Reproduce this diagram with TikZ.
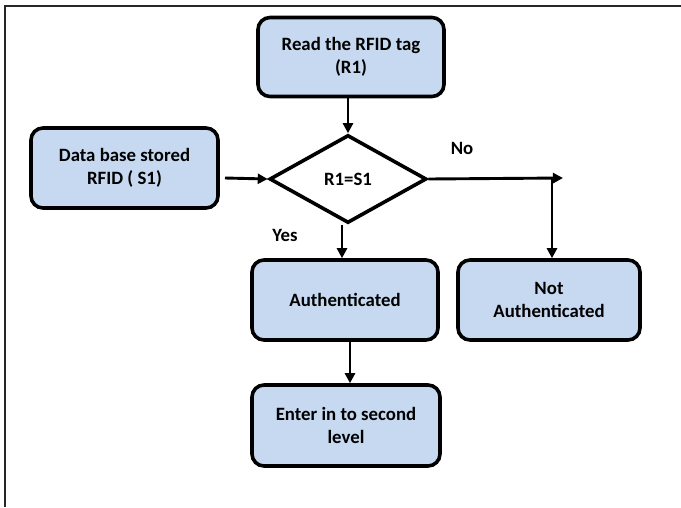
\documentclass[tikz,border=0pt]{standalone}
\usepackage{fontspec}
\setmainfont{Carlito}
\usetikzlibrary{shapes.geometric,arrows.meta}
\definecolor{boxfill}{HTML}{C6D9F1}
\tikzset{
  procbox/.style={draw=black, fill=boxfill, line width=3.6pt, rounded corners=12pt,
    inner sep=0pt, align=center, font=\bfseries\fontsize{18.8}{23}\selectfont},
  decbox/.style={draw=black, fill=white, diamond, line width=3.6pt, inner sep=0pt,
    minimum width=157pt, minimum height=88pt, font=\bfseries\fontsize{18.8}{23}\selectfont},
  lbl/.style={inner sep=0pt, font=\bfseries\fontsize{18.8}{23}\selectfont},
  arr/.style={line width=2.9pt, -{Triangle[length=10pt,width=10pt]}},
  ln/.style={line width=2.9pt}
}
\begin{document}
\begin{tikzpicture}[x=1pt,y=-1pt]
\useasboundingbox (0,0) rectangle (681,507);
\draw[line width=2pt, black!85] (681,6) -- (5,6) -- (5,507);
\node[procbox, minimum width=186pt, minimum height=79pt] (read) at (351,57) {Read the RFID tag\\(R1)};
\node[procbox, minimum width=187pt, minimum height=80pt] (data) at (124.5,168) {Data base stored\\RFID ( S1)};
\node[decbox] (dec) at (348,179) {R1=S1};
\node[procbox, minimum width=186pt, minimum height=80pt] (auth) at (345,300) {Authenticated};
\node[procbox, minimum width=182pt, minimum height=80pt] (nauth) at (549,300) {Not\\Authenticated};
\node[procbox, minimum width=188pt, minimum height=81pt] (enter) at (346,425.5) {Enter in to second\\level};
\node[lbl] (no) at (462,148) {No};
\node[lbl] (yes) at (285,235) {Yes};
\coordinate (dstart) at (225,178);
\coordinate (nend) at (563,178);
\coordinate (ncorner) at (552,178);
\draw[arr] (read.south -| dec.north) -- (dec.north);
\draw[arr] (dstart) -- (dec.west);
\draw[arr] (dec.east) -- (nend);
\draw[arr] (ncorner) -- (ncorner |- nauth.north);
\draw[arr] (dec.south -| 342,0) -- (342,0 |- auth.north);
\draw[arr] (350,0 |- auth.south) -- (350,0 |- enter.north);
\end{tikzpicture}
\end{document}
